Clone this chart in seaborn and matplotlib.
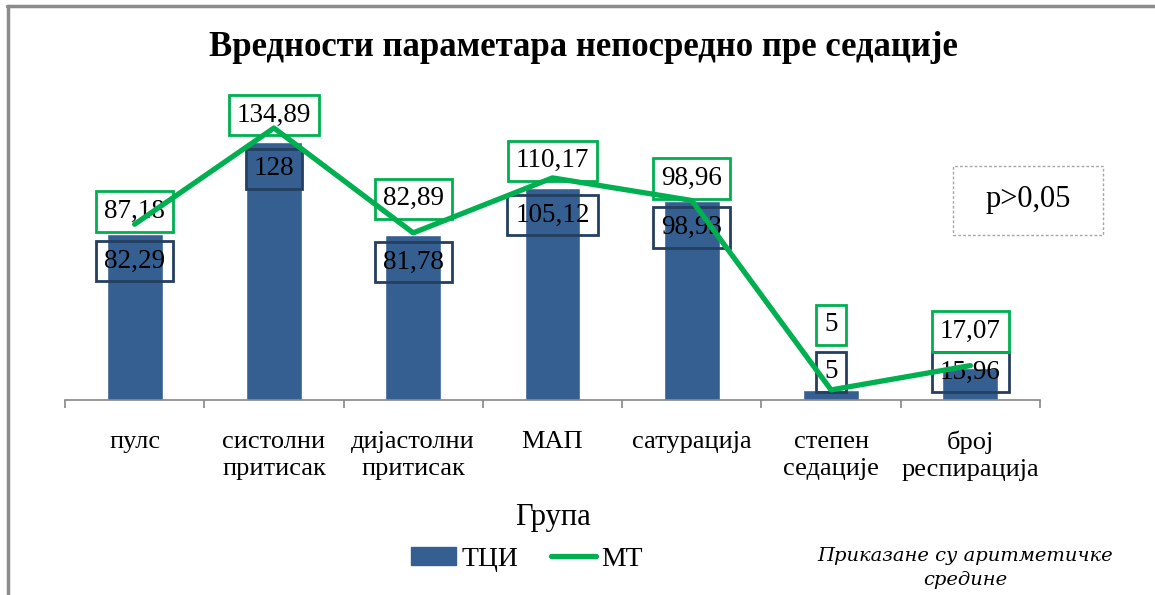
import matplotlib
matplotlib.use('Agg')
import matplotlib.pyplot as plt
import matplotlib.lines as mlines
import matplotlib.patches as mpatches
import pandas as pd
import seaborn as sns

categories = ['пулс', 'систолни\nпритисак', 'дијастолни\nпритисак', 'МАП',
              'сатурација', 'степен\nседације', 'број\nреспирација']
tci = [82.29, 128, 81.78, 105.12, 98.93, 5, 15.96]
mt = [87.18, 134.89, 82.89, 110.17, 98.96, 5, 17.07]
tci_text = ['82,29', '128', '81,78', '105,12', '98,93', '5', '15,96']
mt_text = ['87,18', '134,89', '82,89', '110,17', '98,96', '5', '17,07']

BAR = '#365F91'
GREEN = '#00B050'
NAVY = '#243F60'
SERIF = 'Liberation Serif'

# label placement (pixels above the line point)
mt_offsets = [13, 13, 34, 17, 22, 65, 34]

sns.set_style('white')
plt.rcParams['font.family'] = [SERIF, 'DejaVu Serif']
plt.rcParams['text.color'] = 'black'
plt.rcParams['axes.labelcolor'] = 'black'
plt.rcParams['xtick.color'] = 'black'

df = pd.DataFrame({'Група': categories, 'ТЦИ': tci, 'МТ': mt})

fig = plt.figure(figsize=(11.55, 5.95), dpi=100)
ax = fig.add_axes([65 / 1155, 195 / 595, 975 / 1155, 322.6 / 595])

sns.barplot(data=df, x='Група', y='ТЦИ', color=BAR, width=0.4, saturation=1,
            ax=ax, zorder=2)
sns.pointplot(data=df, x='Група', y='МТ', color=GREEN, markersize=0,
              linewidth=3.8, errorbar=None, ax=ax, zorder=4)

ax.set_ylim(0, 160)
ax.set_xlim(-0.5, 6.5)
ax.set_yticks([])
for s in ['left', 'right', 'top']:
    ax.spines[s].set_visible(False)
ax.spines['bottom'].set_color('#868686')
ax.spines['bottom'].set_linewidth(1.2)
ax.set_xticks([i - 0.5 for i in range(8)], minor=False)
ax.set_xticklabels([])
ax.tick_params(axis='x', which='major', direction='out', length=6,
               color='#868686', width=1.2, bottom=True)
ax.set_xticks(range(7), minor=True)
ax.set_xticklabels(categories, minor=True, fontsize=19, linespacing=1.3)
ax.tick_params(axis='x', which='minor', length=0, pad=22)
ax.set_xlabel('Група', fontsize=22, labelpad=16)
ax.set_ylabel('')

px = 72 / 100
for i in range(7):
    # ТЦИ labels, just inside bar top, kept above the axis
    ytop = ax.transData.transform((i, tci[i]))[1]
    ybase = ax.transData.transform((i, 0))[1]
    yc = max(ytop - 27, ybase + 28)
    yd = ax.transData.inverted().transform((0, yc))[1]
    ax.text(i, yd, tci_text[i], ha='center', va='center', fontsize=19.5,
            zorder=3,
            bbox=dict(boxstyle='square,pad=0.29', fc='none', ec=NAVY, lw=2))
    ax.annotate(mt_text[i], (i, mt[i]), xytext=(0, mt_offsets[i] * px),
                textcoords='offset points', ha='center', va='center',
                fontsize=19.5, zorder=3,
                bbox=dict(boxstyle='square,pad=0.29', fc='none', ec=GREEN, lw=2))

fig.text(583 / 1155, 1 - 48 / 595, 'Вредности параметара непосредно пре седације',
         ha='center', va='center', fontsize=25, fontweight='bold')

fig.text(1028 / 1155, 1 - 200 / 595, 'p>0,05', ha='center', va='center',
         fontsize=22)
fig.add_artist(mpatches.Rectangle((953 / 1155, 1 - 235 / 595), 150 / 1155,
                                  69 / 595, transform=fig.transFigure,
                                  fill=False, ec='#A6A6A6', lw=1,
                                  ls=(0, (2, 1.5))))

handles = [mpatches.Patch(color=BAR, label='ТЦИ'),
           mlines.Line2D([], [], color=GREEN, lw=3.8, label='МТ')]
fig.legend(handles=handles, loc='center', bbox_to_anchor=(527 / 1155, 1 - 559 / 595),
           ncol=2, frameon=False, fontsize=20, handlelength=1.6,
           handleheight=0.6, handletextpad=0.2, columnspacing=1.2)

fig.text(965 / 1155, 1 - 568 / 595, 'Приказане су аритметичке\nсредине',
         ha='center', va='center', fontsize=14, style='italic',
         family='DejaVu Serif', linespacing=1.4)

# outer frame (top and left edges visible)
fig.add_artist(mlines.Line2D([7 / 1155, 1], [1 - 6 / 595, 1 - 6 / 595],
                             transform=fig.transFigure, color='#8C8C8C', lw=2.5))
fig.add_artist(mlines.Line2D([8 / 1155, 8 / 1155], [0, 1 - 6 / 595],
                             transform=fig.transFigure, color='#8C8C8C', lw=2.5))

fig.savefig('out.png', dpi=100)
